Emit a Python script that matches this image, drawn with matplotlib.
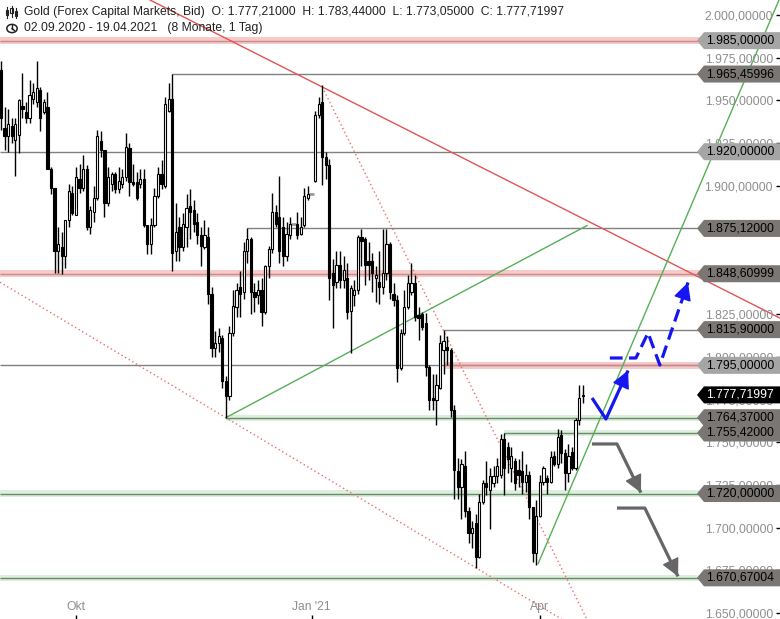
import matplotlib
matplotlib.use("Agg")
import matplotlib.pyplot as plt
import matplotlib.patches as mpatches
import matplotlib.transforms as mtransforms
import numpy as np
import pandas as pd

plt.rcParams['font.family'] = ['Liberation Sans', 'DejaVu Sans']

# Daily candles Gold (FXCM, Bid), 02.09.2020 - 19.04.2021
dates = pd.bdate_range("2020-09-02", "2021-04-19")
holidays = ["2020-12-25", "2021-01-01"]

opens = [1968, 1934, 1929, 1935, 1927, 1930, 1947, 1943, 1940, 1951,
         1949, 1956, 1943, 1946, 1910, 1899, 1862, 1864, 1859, 1880,
         1896, 1883, 1904, 1899, 1910, 1876, 1885, 1893, 1926, 1921,
         1890, 1901, 1907, 1898, 1901, 1905, 1922, 1902, 1902, 1901,
         1904, 1877, 1866, 1877, 1894, 1907, 1900, 1944, 1951, 1862,
         1876, 1864, 1876, 1888, 1886, 1879, 1871, 1864, 1870, 1837,
         1805, 1808, 1811, 1786, 1777, 1814, 1829, 1841, 1838, 1862,
         1869, 1838, 1836, 1839, 1826, 1853, 1863, 1885, 1882, 1876,
         1859, 1871, 1878, 1878, 1872, 1877, 1893, 1895, 1903, 1941.5,
         1949, 1917, 1912, 1849, 1844, 1854, 1845, 1846, 1827, 1836,
         1839, 1870, 1869, 1856, 1856, 1846, 1844, 1841, 1849, 1866,
         1837, 1833, 1793.5, 1814, 1829, 1838, 1843, 1824.5, 1825, 1819.6,
         1794, 1776, 1775, 1782, 1804, 1806, 1804, 1769, 1733, 1724,
         1736, 1710, 1697, 1703, 1683, 1715, 1726, 1722, 1726, 1730,
         1731, 1752, 1747, 1735, 1739, 1734, 1733, 1727, 1731, 1712,
         1685, 1707, 1727, 1729, 1727, 1742, 1737, 1754, 1744, 1732,
         1744.5, 1735, 1763, 1777.21]
highs = [1973, 1946, 1945, 1940, 1940, 1951, 1966, 1949, 1962, 1960,
         1973, 1958, 1951, 1955, 1911, 1899, 1876, 1873, 1880, 1901,
         1900, 1911, 1913, 1918, 1912, 1888, 1900, 1933, 1932, 1921,
         1911, 1908, 1908, 1911, 1910, 1931, 1925, 1913, 1908, 1910,
         1910, 1877, 1881, 1899, 1911, 1915, 1952, 1960, 1965.46, 1890,
         1882, 1884, 1895, 1898, 1892, 1884, 1876, 1880, 1876, 1841,
         1815, 1817, 1813, 1789, 1818, 1839, 1843, 1850, 1867, 1875.12,
         1870, 1843, 1845, 1846, 1854, 1865, 1896, 1889, 1906, 1882,
         1879, 1882, 1878, 1885, 1882, 1899, 1900, 1895, 1944, 1952,
         1959, 1920, 1916, 1857, 1862, 1862, 1859, 1855, 1842, 1845,
         1871, 1875, 1870, 1867, 1861, 1853, 1862, 1875, 1875, 1867,
         1843, 1836, 1816, 1839, 1848, 1855, 1848, 1829, 1826, 1825.5,
         1795, 1790, 1790, 1813, 1815.9, 1812, 1805, 1772, 1741, 1740,
         1745, 1712, 1704, 1708, 1720, 1728, 1739, 1735, 1736, 1741,
         1755, 1755.42, 1750, 1747, 1741, 1740, 1745, 1737, 1733, 1712,
         1716, 1731, 1736, 1731, 1745, 1745, 1758, 1757, 1746, 1749,
         1747, 1764, 1783.7, 1783.44]
lows = [1933, 1921, 1920, 1925, 1906, 1919, 1940, 1937, 1937, 1948,
        1946, 1932, 1942, 1910, 1895, 1849, 1849, 1848.6, 1852, 1876,
        1883, 1883, 1896, 1897, 1874, 1872, 1879, 1892, 1917, 1882,
        1888, 1897, 1896, 1896, 1899, 1903, 1894, 1900, 1892, 1899,
        1876, 1860, 1860, 1876, 1893, 1898, 1899, 1943, 1850, 1856,
        1856, 1862, 1864, 1869, 1873, 1866, 1853, 1863, 1831, 1800,
        1800, 1803, 1782, 1764.37, 1775, 1812, 1823, 1823, 1834, 1855,
        1825, 1826, 1831, 1818, 1825, 1846, 1861, 1876, 1855, 1853,
        1856, 1869, 1878, 1869, 1871, 1876, 1892, 1895, 1902, 1940,
        1900.5, 1904, 1833, 1817, 1840, 1840, 1840, 1822, 1802, 1830,
        1837, 1853, 1842, 1845, 1838, 1832, 1831, 1837, 1845, 1834,
        1830, 1785, 1792, 1813, 1828, 1836, 1821, 1810, 1815.7, 1789,
        1769, 1769, 1760, 1781, 1790, 1795, 1765, 1717, 1717, 1705,
        1706, 1691, 1688, 1676.2, 1682, 1714, 1719, 1699, 1724, 1726,
        1729, 1719, 1732, 1727, 1722, 1724, 1720, 1721, 1705, 1680,
        1677.9, 1706, 1725, 1720, 1726, 1736, 1735, 1738, 1722, 1727,
        1734, 1734, 1760, 1773.05]
closes = [1940, 1929, 1936, 1929, 1936, 1950, 1945, 1940, 1953, 1955,
          1957, 1940, 1949, 1910, 1899, 1862, 1866, 1859, 1880, 1897,
          1884, 1905, 1899, 1910, 1876, 1886, 1893, 1929, 1921, 1890,
          1905, 1907, 1898, 1903, 1905, 1923, 1902, 1901, 1893, 1904,
          1877, 1866, 1877, 1894, 1907, 1901, 1948, 1951, 1861, 1873,
          1864, 1878, 1887, 1885, 1878, 1871, 1865, 1871, 1837, 1805,
          1808, 1812, 1786, 1777, 1814, 1830, 1839, 1837, 1862, 1869,
          1838, 1835, 1839, 1826, 1853, 1863, 1885, 1878, 1862, 1859,
          1872, 1878, 1878, 1871, 1876, 1894, 1895, 1895, 1941.5, 1948,
          1917, 1912, 1846, 1842, 1854, 1845, 1851, 1826, 1840, 1839,
          1870, 1868, 1854, 1854, 1849, 1848, 1841, 1849, 1866, 1838,
          1833, 1793.5, 1814, 1829, 1843, 1843, 1823.5, 1822.5, 1817.6, 1794,
          1775, 1775, 1783.5, 1808, 1809, 1804, 1769, 1734, 1724, 1737,
          1710, 1697, 1700, 1683, 1715, 1726, 1724, 1730, 1730, 1736,
          1752, 1735, 1740, 1742, 1726, 1731, 1727, 1731, 1712, 1685,
          1707, 1727, 1735, 1727, 1741.6, 1737, 1753, 1744, 1732, 1742,
          1734.7, 1763, 1776, 1777.72]

# horizontal levels: price, first day, style
level_prices = [1985.0, 1965.45996, 1920.0, 1875.12, 1848.60999, 1815.9,
                1795.0, 1764.37, 1755.42, 1720.0, 1670.67004]
level_starts = ["2020-09-02", "2020-11-09", "2020-09-02", "2020-12-08", "2020-09-02",
                "2021-02-23", "2020-09-02", "2020-11-30", "2021-03-18", "2020-09-02",
                "2020-09-02"]
level_kinds = ["red", "gray", "gray", "gray", "red", "gray",
               "gray", "green", "green", "green", "green"]
zone_1795_start = "2021-02-23"

# price tags on the right
tag_prices = [1985.0, 1965.45996, 1920.0, 1875.12, 1848.60999, 1815.9,
              1795.0, 1777.71997, 1764.37, 1755.42, 1720.0, 1670.67004]
tag_kinds = ["light", "dark", "light", "dark", "dark", "dark",
             "light", "last", "dark", "dark", "dark", "dark"]

# trend lines (bar index, price)
red_trend = [(90, 1957.9), (200, 1841.9)]
red_dot_steep = [(90, 1957.9), (168, 1630.3)]
red_dot_flat = [(63, 1764.37), (200, 1592.7)]
green_up1 = [(63, 1764.37), (164.2, 1876.8)]
green_up2 = [(150.5, 1679.0), (220, 2018.6)]

# scenario arrows (bar index, price)
blue_solid = [(165.6, 1775.9), (169.5, 1763.6), (175.7, 1792.0)]
blue_dashed = [(170.6, 1799.3), (177.9, 1799.3), (181.3, 1814.0), (184.6, 1795.2), (192.5, 1843.5)]
gray_arrow1 = [(165.6, 1749.0), (172.6, 1749.0), (179.3, 1720.5)]
gray_arrow2 = [(172.6, 1711.5), (180.4, 1711.5), (189.7, 1671.5)]


def de(v, nd=5):
    s = f"{v:,.{nd}f}"
    return s.replace(",", "X").replace(".", ",").replace("X", ".")


W, H = 780, 619
fig = plt.figure(figsize=(W / 100, H / 100), dpi=100)
ax = fig.add_axes([0, 0, 1, 1])
XMIN, XMAX = -0.28, 218.27
ax.set_xlim(XMIN, XMAX)
ax.set_ylim(1646.58, 2008.78)
for s in ax.spines.values():
    s.set_visible(False)

pos = {d: i for i, d in enumerate(dates)}
x = np.arange(len(dates))
o = np.array(opens, float)
h = np.array(highs, float)
l = np.array(lows, float)
c = np.array(closes, float)
hol = dates.isin(pd.to_datetime(holidays))
tr = ~hol

# levels
for p, st, kind in zip(level_prices, level_starts, level_kinds):
    xs = pos[pd.Timestamp(st)] if st != "2020-09-02" else XMIN
    if kind == "red":
        ax.fill_between([xs, XMAX], p - 2.0, p + 2.0, color="#f7c9c9", lw=0, zorder=1)
        ax.hlines(p, xs, XMAX, color="#c98a8a", lw=1, zorder=1.2)
    elif kind == "green":
        ax.fill_between([xs, XMAX], p - 1.8, p + 1.8, color="#ddefdd", lw=0, zorder=1)
        ax.hlines(p, xs, XMAX, color="#6b8a6b", lw=1, zorder=1.2)
    else:
        ax.hlines(p, xs, XMAX, color="#808080", lw=1, zorder=1.2)
zs = pos[pd.Timestamp(zone_1795_start)]
ax.fill_between([zs, XMAX], 1795 - 2.0, 1795 + 2.0, color="#f7c9c9", lw=0, zorder=1.1)
ax.hlines(1795, zs, XMAX, color="#c98a8a", lw=1, zorder=1.2)

# trend lines
ax.axline(*red_trend, color="#e05555", lw=1, zorder=1.5)
ax.plot(*zip(*red_dot_steep), color="#ee6b6b", lw=1, ls=(0, (1, 2)), zorder=1.5)
ax.axline(*red_dot_flat, color="#ee6b6b", lw=1, ls=(0, (1, 2)), zorder=1.5)
ax.plot(*zip(*green_up1), color="#55b055", lw=1, zorder=1.5)
ax.plot(*zip(*green_up2), color="#55b055", lw=1, zorder=1.5)

# candles
ax.vlines(x[tr], l[tr], h[tr], color="black", lw=1, zorder=3)
body_lo = np.minimum(o, c)
body_h = np.maximum(np.abs(c - o), 0.4)
fc = np.where(c >= o, "white", "black")
ax.bar(x[tr], body_h[tr], bottom=body_lo[tr], width=0.62, color=fc[tr],
       edgecolor="black", linewidth=0.8, zorder=4)
ax.hlines(c[hol], x[hol] - 0.7, x[hol] + 0.7, color="#9a9a9a", lw=2, zorder=3)


# arrows
def draw_arrow(pts, color, dashed=False):
    xs, ys = zip(*pts)
    ax.plot(xs, ys, color=color, lw=2.3, ls=(0, (4, 2)) if dashed else "-",
            solid_capstyle="butt", zorder=5)
    (x0, y0), (x1, y1) = pts[-2], pts[-1]
    ax.annotate("", xy=(x1, y1), xytext=(x1 - (x1 - x0) * 0.05, y1 - (y1 - y0) * 0.05),
                arrowprops=dict(arrowstyle="-|>,head_length=0.55,head_width=0.28",
                                mutation_scale=20, color=color, lw=1,
                                shrinkA=0, shrinkB=0), zorder=5)


draw_arrow(blue_solid, "#1616f0")
draw_arrow(blue_dashed, "#1616f0", dashed=True)
draw_arrow(gray_arrow1, "#666666")
draw_arrow(gray_arrow2, "#666666")

# axes ticks
yt = np.arange(1650, 2001, 25)
ax.set_yticks(yt)
ax.set_yticklabels([de(v) for v in yt])
ax.yaxis.tick_right()
ax.tick_params(axis="y", direction="in", length=3, width=1, pad=-5, labelsize=8.7,
               labelcolor="#8e8e8e", color="black")
for lab in ax.get_yticklabels():
    lab.set_horizontalalignment("right")

xt_dates = ["2020-10-01", "2021-01-01", "2021-04-01"]
ax.set_xticks([pos[pd.Timestamp(d)] for d in xt_dates])
ax.set_xticklabels(["Okt", "Jan '21", "Apr"])
ax.tick_params(axis="x", direction="in", length=3, width=1, pad=-4, labelsize=8.7,
               labelcolor="#8e8e8e", color="black")
for lab in ax.get_xticklabels():
    lab.set_verticalalignment("bottom")

# price tags
bl = mtransforms.blended_transform_factory(ax.transAxes, ax.transData)
tag_col = {"light": "#a5a5a5", "dark": "#7a7673", "last": "#000000"}
hh = 8.5 / 1.709
tip, left = 697 / W, 704 / W
for p, k in zip(tag_prices, tag_kinds):
    poly = mpatches.Polygon([(tip, p), (left, p + hh), (1.0, p + hh), (1.0, p - hh), (left, p - hh)],
                            closed=True, transform=bl, facecolor=tag_col[k], edgecolor="none",
                            zorder=6, clip_on=False)
    ax.add_patch(poly)
    ax.text(706 / W, p, de(p), transform=bl, ha="left", va="center", fontsize=8.7,
            color="white" if k == "last" else "black", zorder=7)


# header
def fx(px):
    return px / W


def fy(py):
    return 1 - py / H


fig.text(fx(24), fy(12.5), "Gold (Forex Capital Markets, Bid)  O: 1.777,21000  H: 1.783,44000  "
         "L: 1.773,05000  C: 1.777,71997", fontsize=8.7, va="center", color="#222222")
fig.text(fx(24), fy(28.5), "02.09.2020 - 19.04.2021   (8 Monate, 1 Tag)", fontsize=8.7,
         va="center", color="#222222")
# small candle icon
for cx, y0, y1, b0, b1 in [(7, 7, 18, 10, 15), (11.5, 6, 17, 8, 13), (16, 8, 18, 11, 16)]:
    fig.add_artist(plt.Line2D([fx(cx), fx(cx)], [fy(y0), fy(y1)], color="#222222", lw=0.8))
    fig.add_artist(mpatches.Rectangle((fx(cx - 1.3), fy(b1)), fx(2.6), (b1 - b0) / H,
                                      facecolor="white", edgecolor="#222222", lw=0.8))
# clock icon
fig.add_artist(mpatches.Circle((fx(12), fy(28.5)), 5.2 / W, transform=fig.transFigure,
                               facecolor="none", edgecolor="#222222", lw=1.1))
fig.add_artist(plt.Line2D([fx(12), fx(12)], [fy(28.5), fy(25)], color="#222222", lw=1))
fig.add_artist(plt.Line2D([fx(12), fx(14.5)], [fy(28.5), fy(30.5)], color="#222222", lw=1))

fig.savefig("out.png", dpi=100, facecolor="white")
